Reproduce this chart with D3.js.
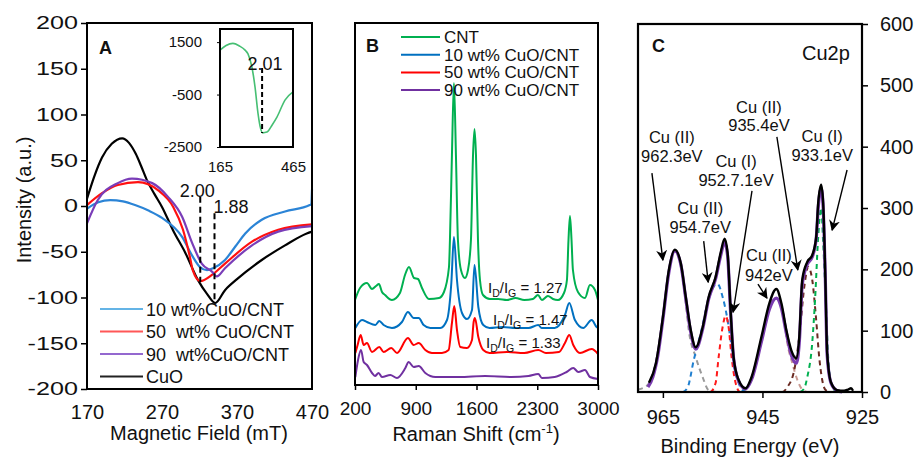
<!DOCTYPE html>
<html>
<head>
<meta charset="utf-8">
<script src="https://cdn.jsdelivr.net/npm/d3@7/dist/d3.min.js"></script>
<style>
    body { margin: 0; background: #fff; }
    svg text { font-family: "Liberation Sans", Arial, sans-serif; fill: #111; }
</style>
</head>
<body>
<div id="chart"></div>
<script>
// ---------- Panel A : EPR, [field (mT), intensity (a.u.)]
const eprCuO = [[170,8],[180,33],[190,53],[203,68],[217,74],[226,69],[235,57],[242,44],[250,28],[260,13],[270,-1],[285,-27],[301,-51],[318,-81],[330,-96],[341,-106],[354,-92],[370,-80],[403,-59],[434,-43],[463,-30],[470,-28]];
const eprCuO10 = [[170,-3],[185,4],[201,6.5],[218,5],[234,1],[252,-5],[270,-13],[297,-34],[310,-54],[321,-67],[330,-70],[338,-68],[354,-59],[368,-44],[381,-30],[403,-15],[434,-6],[467,1],[469,2],[470,18]];
const eprCuO50 = [[170,1],[190,14],[211,23],[238,26],[265,17],[285,-1],[298,-26],[307,-55],[311,-70],[321,-82],[337,-75],[354,-63],[390,-39],[425,-26],[470,-20]];
const eprCuO90 = [[170,-19],[184,6],[211,25],[230,30],[257,25],[278,10],[297,-12],[310,-40],[323,-63],[337,-72],[343,-77],[354,-68],[390,-43],[425,-28],[470,-22]];
// inset : CNT
const eprCNT = [[165,1195],[190,1370],[218,1450],[245,1350],[268,1195],[280,1050],[296,550],[309,-215],[321,-1205],[332,-1800],[340,-1960],[358,-1930],[380,-1650],[399,-1360],[432,-710],[465,-400]];
const eprNames = ["10 wt%CuO/CNT", "50  wt% CuO/CNT", "90  wt%CuO/CNT", "CuO"];
const eprXTicks = [170, 270, 370, 470];
const eprYTicks = [-200, -150, -100, -50, 0, 50, 100, 150, 200];
const insetXTicks = [165, 465];
const insetYTicks = [1500, -500, -2500];
// g-factor markers : [label, field, top, bottom]
const gMarks = [["2.00", 321, 10, -83], ["1.88", 340, -8, -104]];
const gInset = ["2.01", 338, 510, -1970];

// ---------- Panel B : Raman, [shift (cm-1), stacked intensity]
const ramanCNT = [[200,85],[258,97],[338,102],[396,96],[442,99],[476,101],[511,93],[546,90],[626,85],[718,92],[776,110],[822,118],[880,107],[926,106],[972,97],[1052,86],[1168,87],[1225,93],[1283,118],[1294,145],[1317,230],[1340,302],[1363,230],[1386,145],[1421,115],[1467,107],[1502,115],[1536,145],[1560,230],[1577,256],[1594,230],[1617,145],[1640,105],[1675,90],[1755,86],[1850,86],[1950,85],[2050,87],[2150,85],[2250,86],[2308,90],[2354,85],[2423,89],[2481,86],[2539,85],[2608,92],[2642,105],[2660,145],[2677,169],[2695,145],[2711,115],[2769,93],[2850,87],[2907,100],[2965,95],[3000,85]];
const ramanCuO10 = [[204,57],[281,65],[338,63],[434,60],[480,64],[530,60],[626,57],[741,63],[810,73],[876,67],[934,67],[991,60],[1068,57],[1183,57],[1260,65],[1310,102],[1340,148],[1375,105],[1433,72],[1490,66],[1548,75],[1577,120],[1621,78],[1678,60],[1750,57],[1900,58],[2050,57],[2200,57],[2312,60],[2350,57],[2500,57],[2619,70],[2669,82],[2734,65],[2830,57],[2927,65],[2984,58],[3000,57]];
const ramanCuO50 = [[204,32],[230,40],[265,50],[300,40],[338,42],[396,33],[480,38],[530,33],[618,37],[684,32],[810,47],[876,40],[934,42],[1010,35],[1087,32],[1202,32],[1279,35],[1317,62],[1344,79],[1375,55],[1413,38],[1490,37],[1548,45],[1567,63],[1582,67],[1621,48],[1678,35],[1750,32],[1950,33],[2150,32],[2312,35],[2400,32],[2550,33],[2619,42],[2669,50],[2715,40],[2792,32],[2927,36],[3000,31]];
const ramanCuO90 = [[204,8],[235,25],[269,35],[300,23],[338,20],[396,12],[430,9],[472,12],[511,8],[607,10],[684,7],[780,17],[818,23],[876,18],[934,19],[1010,12],[1126,8],[1400,8],[1700,9],[2000,8],[2200,9],[2312,11],[2354,7],[2500,8],[2638,13],[2715,17],[2773,13],[2850,15],[2907,8],[3000,6]];
const ramanNames = ["CNT", "10 wt% CuO/CNT", "50 wt% CuO/CNT", "90 wt% CuO/CNT"];
const ramanTicks = [200, 900, 1600, 2300, 3000];
const idIgRatios = ["1.27", "1.47", "1.33"];

// ---------- Panel C : XPS Cu2p, [binding energy (eV), counts]
const xpsEnvelope = [[967.8,15],[966.4,47],[965,122],[963.8,199],[962.6,232],[961.4,210],[960.4,155],[959.4,101],[958.4,73],[957,106],[955.8,155],[954.4,188],[953.4,227],[952.6,250],[952,227],[951.4,134],[950.8,57],[949.8,20],[948.4,6],[947.2,24],[945.2,90],[943.6,145],[942.2,168],[941.2,145],[940.2,101],[939.2,68],[938.2,55],[937.6,90],[937,183],[936,212],[935,223],[934.2,253],[933.8,308],[933.2,338],[932.8,308],[932.4,199],[932,64],[931.2,15],[930,3],[928.6,2],[927.8,4],[927.2,6],[926.8,2]];
const xpsFit = [[968,8],[967,25],[966,60],[965,118],[963.8,195],[962.6,230],[961.4,208],[960.4,152],[959.4,97],[958.4,70],[957,103],[955.8,152],[954.4,185],[953.4,222],[952.6,244],[952,222],[951.4,130],[950.8,55],[949.8,18],[948.4,5],[947.2,20],[945.2,82],[943.6,135],[942.2,153],[941.2,137],[940.2,96],[939.2,60],[938.2,47],[937.6,80],[937,175],[936,208],[935,220],[934.2,250],[933.8,300],[933.2,332],[932.8,300],[932.4,195],[932,60],[931.2,14],[930,2],[929,0]];
const xpsCu962 = [[970,4],[968,12],[966.5,45],[965,120],[963.8,197],[962.6,230],[961.4,205],[960.4,145],[959.8,101],[958.4,57],[957,24],[955.8,3],[954,0],[925,0]];
const xpsCu954 = [[970,0],[961,0],[960,8],[958.8,52],[957.4,96],[956,145],[954.8,172],[954,176],[953,155],[952,117],[951.4,85],[950.8,47],[950,20],[949,3],[948,0],[925,0]];
const xpsCu952 = [[970,0],[955.5,0],[954.4,15],[953.8,57],[953,106],[952.4,124],[951.8,106],[951.2,57],[950.4,15],[949.5,0],[925,0]];
const xpsCu942 = [[970,0],[949,0],[948,8],[947,25],[946,55],[945,95],[944,130],[943,150],[942.2,153],[941.4,145],[940.6,118],[940,80],[939,47],[938,20],[937,4],[936,0],[925,0]];
const xpsCu935 = [[970,0],[941,0],[940,8],[938.6,36],[937.6,90],[936.6,171],[935.8,204],[935,183],[934.2,117],[933.6,57],[933,20],[932.4,4],[931.5,0],[925,0]];
const xpsCu933 = [[970,0],[937.5,0],[936.6,6],[936,24],[935,80],[934.4,155],[933.8,253],[933.2,300],[932.8,243],[932.2,134],[931.8,57],[931.2,15],[930.5,3],[929.5,0],[925,0]];
const xpsStates = ["Cu (II)", "Cu (II)", "Cu (I)", "Cu (II)", "Cu (I)", "Cu (II)"];
const xpsEnergies = ["962.3eV", "954.7eV", "952.7.1eV", "935.4eV", "933.1eV", "942eV"];
const xpsXTicks = [965, 945, 925];
const xpsYTicks = [0, 100, 200, 300, 400, 500, 600];

const svg = d3.select("#chart").append("svg")
    .attr("width", 916)
    .attr("height", 457);

svg.append("defs").append("marker")
    .attr("id", "arrow")
    .attr("viewBox", "0 0 10 10")
    .attr("refX", 9).attr("refY", 5)
    .attr("markerWidth", 11).attr("markerHeight", 11)
    .attr("markerUnits", "userSpaceOnUse")
    .attr("orient", "auto")
    .append("path")
    .attr("d", "M0,0 L10,5 L0,10 L3,5 Z")
    .attr("fill", "#000");

function lineGen(x, y) {
    return d3.line().x(d => x(d[0])).y(d => y(d[1])).curve(d3.curveMonotoneX);
}

// ================= Panel A =================
class EprVis {
    constructor(svg) {
        this.svg = svg;
        this.initVis();
    }

    initVis() {
        let vis = this;
        vis.g = vis.svg.append("g");

        vis.x = d3.scaleLinear().domain([170, 470]).range([87, 312]);
        vis.y = d3.scaleLinear().domain([-200, 200]).range([389, 23]);
        let line = lineGen(vis.x, vis.y);

        // y axis, labels are wide in the original
        let yAx = vis.g.append("g")
            .attr("transform", "translate(87,0)")
            .call(d3.axisLeft(vis.y).tickValues(eprYTicks).tickSize(6).tickSizeOuter(0).tickFormat(d => String(d)));
        yAx.select(".domain").remove();
        yAx.selectAll("line").attr("stroke", "#000").attr("stroke-width", 1.5);
        yAx.selectAll("text").attr("font-size", 18).attr("fill", "#111")
            .attr("x", -9 / 1.4).attr("transform", "scale(1.4,1)");

        let xAx = vis.g.append("g")
            .attr("transform", "translate(0,389)")
            .call(d3.axisBottom(vis.x).tickValues(eprXTicks).tickSize(0).tickPadding(16));
        xAx.select(".domain").remove();
        xAx.selectAll("text").attr("font-size", 20).attr("fill", "#111");

        // curves
        let series = [
            {data: eprCuO, color: "#000"},
            {data: eprCuO10, color: "#2b84d6"},
            {data: eprCuO50, color: "#ff1010"},
            {data: eprCuO90, color: "#7a3db8"}
        ];
        vis.g.selectAll(".epr")
            .data(series)
            .enter()
            .append("path")
            .attr("class", "epr")
            .attr("d", d => line(d.data))
            .attr("fill", "none")
            .attr("stroke", d => d.color)
            .attr("stroke-width", 2.2);

        // g markers
        gMarks.forEach((m, i) => {
            vis.g.append("line")
                .attr("x1", vis.x(m[1])).attr("x2", vis.x(m[1]))
                .attr("y1", vis.y(m[2])).attr("y2", vis.y(m[3]))
                .attr("stroke", "#000").attr("stroke-width", 2)
                .attr("stroke-dasharray", "6,4");
            vis.g.append("text")
                .attr("x", vis.x(m[1]) + (i == 0 ? -3 : -1))
                .attr("y", vis.y(m[2]))
                .attr("text-anchor", i == 0 ? "middle" : "start")
                .attr("font-size", 18)
                .text(m[0]);
        });

        // frame
        vis.g.append("rect")
            .attr("x", 87).attr("y", 23).attr("width", 225).attr("height", 366)
            .attr("fill", "none").attr("stroke", "#000").attr("stroke-width", 2);

        vis.g.append("text")
            .attr("x", 99).attr("y", 54)
            .attr("font-size", 18).attr("font-weight", "bold")
            .text("A");

        // legend
        let legColors = ["#64b4e6", "#ff5757", "#9468cf", "#222"];
        eprNames.forEach((name, i) => {
            let ly = 309 + i * 22.5;
            vis.g.append("line")
                .attr("x1", 100).attr("x2", 143).attr("y1", ly).attr("y2", ly)
                .attr("stroke", legColors[i]).attr("stroke-width", 2);
            vis.g.append("text")
                .attr("x", 146).attr("y", ly + 6.5)
                .attr("font-size", 18)
                .style("white-space", "pre")
                .text(name);
        });

        // axis titles
        vis.g.append("text")
            .attr("transform", "translate(31,200) rotate(-90)")
            .attr("text-anchor", "middle")
            .attr("font-size", 20)
            .text("Intensity (a.u.)");
        vis.g.append("text")
            .attr("x", 199).attr("y", 440)
            .attr("text-anchor", "middle")
            .attr("font-size", 20)
            .text("Magnetic Field (mT)");

        vis.drawInset();
    }

    drawInset() {
        let vis = this;
        let x = d3.scaleLinear().domain([165, 465]).range([220, 293]);
        let y = d3.scaleLinear().domain([-2500, 2000]).range([147, 29]);
        let ig = vis.g.append("g");

        ig.append("rect")
            .attr("x", 220).attr("y", 29).attr("width", 73).attr("height", 118)
            .attr("fill", "#fff");

        let yAx = ig.append("g")
            .attr("transform", "translate(220,0)")
            .call(d3.axisLeft(y).tickValues(insetYTicks).tickSize(3).tickPadding(15).tickFormat(d => String(d)));
        yAx.select(".domain").remove();
        yAx.selectAll("line").attr("stroke", "#000");
        yAx.selectAll("text").attr("font-size", 15).attr("fill", "#3a3a3a");

        let xAx = ig.append("g")
            .attr("transform", "translate(0,147)")
            .call(d3.axisBottom(x).tickValues(insetXTicks).tickSize(0).tickPadding(14));
        xAx.select(".domain").remove();
        xAx.selectAll("text").attr("font-size", 15).attr("fill", "#3a3a3a");

        ig.append("path")
            .attr("d", lineGen(x, y)(eprCNT))
            .attr("fill", "none")
            .attr("stroke", "#46bf73")
            .attr("stroke-width", 1.6);

        ig.append("line")
            .attr("x1", x(gInset[1])).attr("x2", x(gInset[1]))
            .attr("y1", y(gInset[2])).attr("y2", y(gInset[3]))
            .attr("stroke", "#000").attr("stroke-width", 2)
            .attr("stroke-dasharray", "5,3");
        ig.append("text")
            .attr("x", x(gInset[1]) + 3).attr("y", y(gInset[2]) + 2)
            .attr("text-anchor", "middle")
            .attr("font-size", 18)
            .text(gInset[0]);

        ig.append("rect")
            .attr("x", 220).attr("y", 29).attr("width", 73).attr("height", 118)
            .attr("fill", "none").attr("stroke", "#000").attr("stroke-width", 2);
    }
}

// ================= Panel B =================
class RamanVis {
    constructor(svg) {
        this.svg = svg;
        this.initVis();
    }

    initVis() {
        let vis = this;
        vis.g = vis.svg.append("g");
        vis.x = d3.scaleLinear().domain([200, 3000]).range([355, 598]);
        vis.y = d3.scaleLinear().domain([0, 362]).range([385, 23]);
        let line = lineGen(vis.x, vis.y);

        let xAx = vis.g.append("g")
            .attr("transform", "translate(0,385)")
            .call(d3.axisBottom(vis.x).tickValues(ramanTicks).tickSize(5).tickPadding(12).tickFormat(d => String(d)));
        xAx.select(".domain").remove();
        xAx.selectAll("line").attr("stroke", "#000").attr("stroke-width", 1.5);
        xAx.selectAll("text").attr("font-size", 19).attr("fill", "#111");

        let colors = ["#00b050", "#0070c0", "#ff0000", "#7030a0"];
        let series = [ramanCNT, ramanCuO10, ramanCuO50, ramanCuO90];

        vis.g.selectAll(".raman")
            .data(series)
            .enter()
            .append("path")
            .attr("class", "raman")
            .attr("d", d => line(d))
            .attr("fill", "none")
            .attr("stroke", (d, i) => colors[i])
            .attr("stroke-width", 2);

        vis.g.append("rect")
            .attr("x", 355).attr("y", 23).attr("width", 243).attr("height", 362)
            .attr("fill", "none").attr("stroke", "#000").attr("stroke-width", 2);

        vis.g.append("text")
            .attr("x", 366).attr("y", 52)
            .attr("font-size", 18).attr("font-weight", "bold")
            .text("B");

        // legend
        ramanNames.forEach((name, i) => {
            let ly = 37 + i * 17.7;
            vis.g.append("line")
                .attr("x1", 401).attr("x2", 440).attr("y1", ly).attr("y2", ly)
                .attr("stroke", colors[i]).attr("stroke-width", 2);
            vis.g.append("text")
                .attr("x", 444).attr("y", ly + 6)
                .attr("font-size", 17)
                .text(name);
        });

        // ID/IG ratios
        let ratioPos = [[488, 293], [493, 325], [486, 348]];
        idIgRatios.forEach((r, i) => {
            let t = vis.g.append("text")
                .attr("x", ratioPos[i][0]).attr("y", ratioPos[i][1])
                .attr("font-size", 15);
            t.append("tspan").text("I");
            t.append("tspan").attr("font-size", 10.5).attr("dy", 4).text("D");
            t.append("tspan").attr("dy", -4).text("/I");
            t.append("tspan").attr("font-size", 10.5).attr("dy", 4).text("G");
            t.append("tspan").attr("dy", -4).style("white-space", "pre").text(" = " + r);
        });

        let title = vis.g.append("text")
            .attr("x", 476).attr("y", 441)
            .attr("text-anchor", "middle")
            .attr("font-size", 20);
        title.append("tspan").text("Raman Shift (cm");
        title.append("tspan").attr("font-size", 13).attr("dy", -8).text("-1");
        title.append("tspan").attr("dy", 8).text(")");
    }
}

// ================= Panel C =================
class XpsVis {
    constructor(svg) {
        this.svg = svg;
        this.initVis();
    }

    initVis() {
        let vis = this;
        vis.g = vis.svg.append("g");
        vis.x = d3.scaleLinear().domain([970, 925]).range([638, 862]);
        vis.y = d3.scaleLinear().domain([0, 600]).range([392, 24]);
        let line = lineGen(vis.x, vis.y);

        let yAx = vis.g.append("g")
            .attr("transform", "translate(862,0)")
            .call(d3.axisRight(vis.y).tickValues(xpsYTicks).tickSize(6).tickPadding(12).tickSizeOuter(0));
        yAx.select(".domain").remove();
        yAx.selectAll("line").attr("stroke", "#000").attr("stroke-width", 1.5);
        yAx.selectAll("text").attr("font-size", 20).attr("fill", "#111");

        let xAx = vis.g.append("g")
            .attr("transform", "translate(0,392)")
            .call(d3.axisBottom(vis.x).tickValues(xpsXTicks).tickSize(6).tickPadding(12));
        xAx.select(".domain").remove();
        xAx.selectAll("line").attr("stroke", "#000").attr("stroke-width", 1.5);
        xAx.selectAll("text").attr("font-size", 20).attr("fill", "#111");

        // fitted components
        let comps = [
            {data: xpsCu962, color: "#9a9a9a"},
            {data: xpsCu954, color: "#1f7fd0"},
            {data: xpsCu952, color: "#ff1a1a"},
            {data: xpsCu942, color: "#c99a92"},
            {data: xpsCu935, color: "#6b2a22"},
            {data: xpsCu933, color: "#00b050"}
        ];
        vis.g.selectAll(".comp")
            .data(comps)
            .enter()
            .append("path")
            .attr("class", "comp")
            .attr("d", d => line(d.data))
            .attr("fill", "none")
            .attr("stroke", d => d.color)
            .attr("stroke-width", 2)
            .attr("stroke-dasharray", "5,4");

        vis.g.append("path")
            .attr("d", line(xpsFit))
            .attr("fill", "none")
            .attr("stroke", "#7a3cb0")
            .attr("stroke-width", 3.2);
        vis.g.append("path")
            .attr("d", line(xpsEnvelope))
            .attr("fill", "none")
            .attr("stroke", "#000")
            .attr("stroke-width", 2.4);

        vis.g.append("rect")
            .attr("x", 638).attr("y", 24).attr("width", 224).attr("height", 368)
            .attr("fill", "none").attr("stroke", "#000").attr("stroke-width", 2.2);

        vis.g.append("text")
            .attr("x", 652).attr("y", 52)
            .attr("font-size", 18).attr("font-weight", "bold")
            .text("C");
        vis.g.append("text")
            .attr("x", 802).attr("y", 60)
            .attr("font-size", 20)
            .text("Cu2p");

        // peak annotations: text centre (eV, counts), two baselines, arrow start and tip
        let notes = [
            {tx: 963.2, t1: 406, t2: 375, a: [967.2, 357], b: [965.0, 215]},
            {tx: 957.5, t1: 290, t2: 259, a: [956.8, 246], b: [955.9, 179]},
            {tx: 950.3, t1: 367, t2: 336, a: [947.1, 328], b: [950.9, 130]},
            {tx: 945.7, t1: 455, t2: 426, a: [942.1, 416], b: [937.9, 199]},
            {tx: 933.0, t1: 408, t2: 377, a: [928.0, 362], b: [931.0, 264]},
            {tx: 943.7, t1: 214, t2: 181, a: [945.9, 176], b: [944.1, 153]}
        ];
        notes.forEach((n, i) => {
            vis.g.append("text")
                .attr("x", vis.x(n.tx)).attr("y", vis.y(n.t1))
                .attr("text-anchor", "middle").attr("font-size", 16.5)
                .text(xpsStates[i]);
            vis.g.append("text")
                .attr("x", vis.x(n.tx)).attr("y", vis.y(n.t2))
                .attr("text-anchor", "middle").attr("font-size", 16.5)
                .text(xpsEnergies[i]);
            vis.g.append("line")
                .attr("x1", vis.x(n.a[0])).attr("y1", vis.y(n.a[1]))
                .attr("x2", vis.x(n.b[0])).attr("y2", vis.y(n.b[1]))
                .attr("stroke", "#000").attr("stroke-width", 1.4)
                .attr("marker-end", "url(#arrow)");
        });

        vis.g.append("text")
            .attr("x", 750).attr("y", 453)
            .attr("text-anchor", "middle")
            .attr("font-size", 20)
            .text("Binding Energy (eV)");
    }
}

new EprVis(svg);
new RamanVis(svg);
new XpsVis(svg);
</script>
</body>
</html>
